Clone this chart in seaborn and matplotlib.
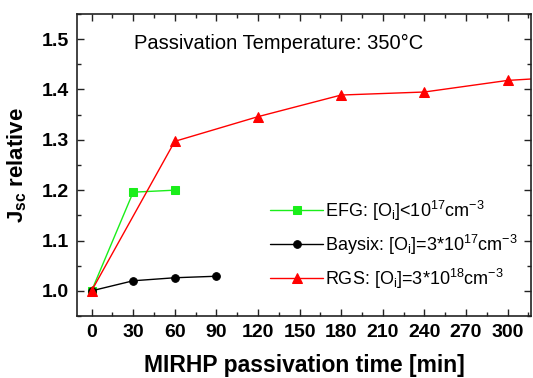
import matplotlib
matplotlib.use("Agg")
import matplotlib.pyplot as plt
import pandas as pd
import seaborn as sns
from matplotlib.ticker import MultipleLocator

# passivation time [min] and relative Jsc per material
efg_time = [0, 30, 60]
efg_jsc = [1.0, 1.196, 1.200]
baysix_time = [0, 30, 60, 90]
baysix_jsc = [1.0, 1.020, 1.026, 1.029]
rgs_time = [0, 60, 120, 180, 240, 300, 360]
rgs_jsc = [1.0, 1.297, 1.346, 1.389, 1.395, 1.418, 1.428]

labels = [
    r"EFG: [O$_\mathregular{i}$]<10$^\mathregular{17}$cm$^\mathregular{-3}$",
    r"Baysix: [O$_\mathregular{i}$]=3*10$^\mathregular{17}$cm$^\mathregular{-3}$",
    r"RGS: [O$_\mathregular{i}$]=3*10$^\mathregular{18}$cm$^\mathregular{-3}$",
]

sns.set_style("ticks")
plt.rcParams["font.family"] = ["Liberation Sans", "DejaVu Sans"]
plt.rcParams["mathtext.fontset"] = "custom"
plt.rcParams["mathtext.rm"] = "Liberation Sans"
plt.rcParams["mathtext.bf"] = "Liberation Sans:bold"
plt.rcParams["text.color"] = "black"
plt.rcParams["axes.labelcolor"] = "black"
plt.rcParams["xtick.color"] = "black"
plt.rcParams["ytick.color"] = "black"

fig = plt.figure(figsize=(5.33, 3.78), dpi=100)
ax = fig.add_axes([0.1445, 0.164, 0.852, 0.799])

series = [
    (efg_time, efg_jsc, "#1aee1a", "s", 5.5, labels[0]),
    (baysix_time, baysix_jsc, "black", "o", 5.5, labels[1]),
    (rgs_time, rgs_jsc, "#ff0000", "^", 7, labels[2]),
]
for t, j, color, marker, ms, label in series:
    df = pd.DataFrame({"time": t, "jsc": j})
    sns.lineplot(data=df, x="time", y="jsc", ax=ax, color=color, marker=marker,
                 markersize=ms, markeredgecolor=color, linewidth=1, label=label)

ax.set_xlim(-10.5, 317)
ax.set_ylim(0.95, 1.55)
ax.xaxis.set_major_locator(MultipleLocator(30))
ax.xaxis.set_minor_locator(MultipleLocator(15))
ax.yaxis.set_major_locator(MultipleLocator(0.1))
ax.yaxis.set_minor_locator(MultipleLocator(0.05))
ax.tick_params(which="both", direction="in", top=True, right=True, width=1, color="#222222")
ax.tick_params(which="major", length=5, labelsize=14, pad=6)
ax.tick_params(which="minor", length=3)
for lab in ax.get_xticklabels() + ax.get_yticklabels():
    lab.set_fontweight("bold")
for s in ax.spines.values():
    s.set_linewidth(1.2)
    s.set_color("#222222")

ax.set_xlabel("MIRHP passivation time [min]", fontsize=16.5, fontweight="bold", labelpad=9)
ax.set_ylabel(r"$\mathbf{J_{sc}}$ relative", fontsize=16, fontweight="bold", labelpad=9)

ax.text(0.125, 0.885, "Passivation Temperature: 350°C", transform=ax.transAxes, fontsize=14.5)

ax.legend(loc="lower left", bbox_to_anchor=(0.41, 0.06), frameon=False, fontsize=13,
          handlelength=2.9, handletextpad=0.1, labelspacing=0.55, borderaxespad=0)

fig.savefig("out.png", dpi=100)
